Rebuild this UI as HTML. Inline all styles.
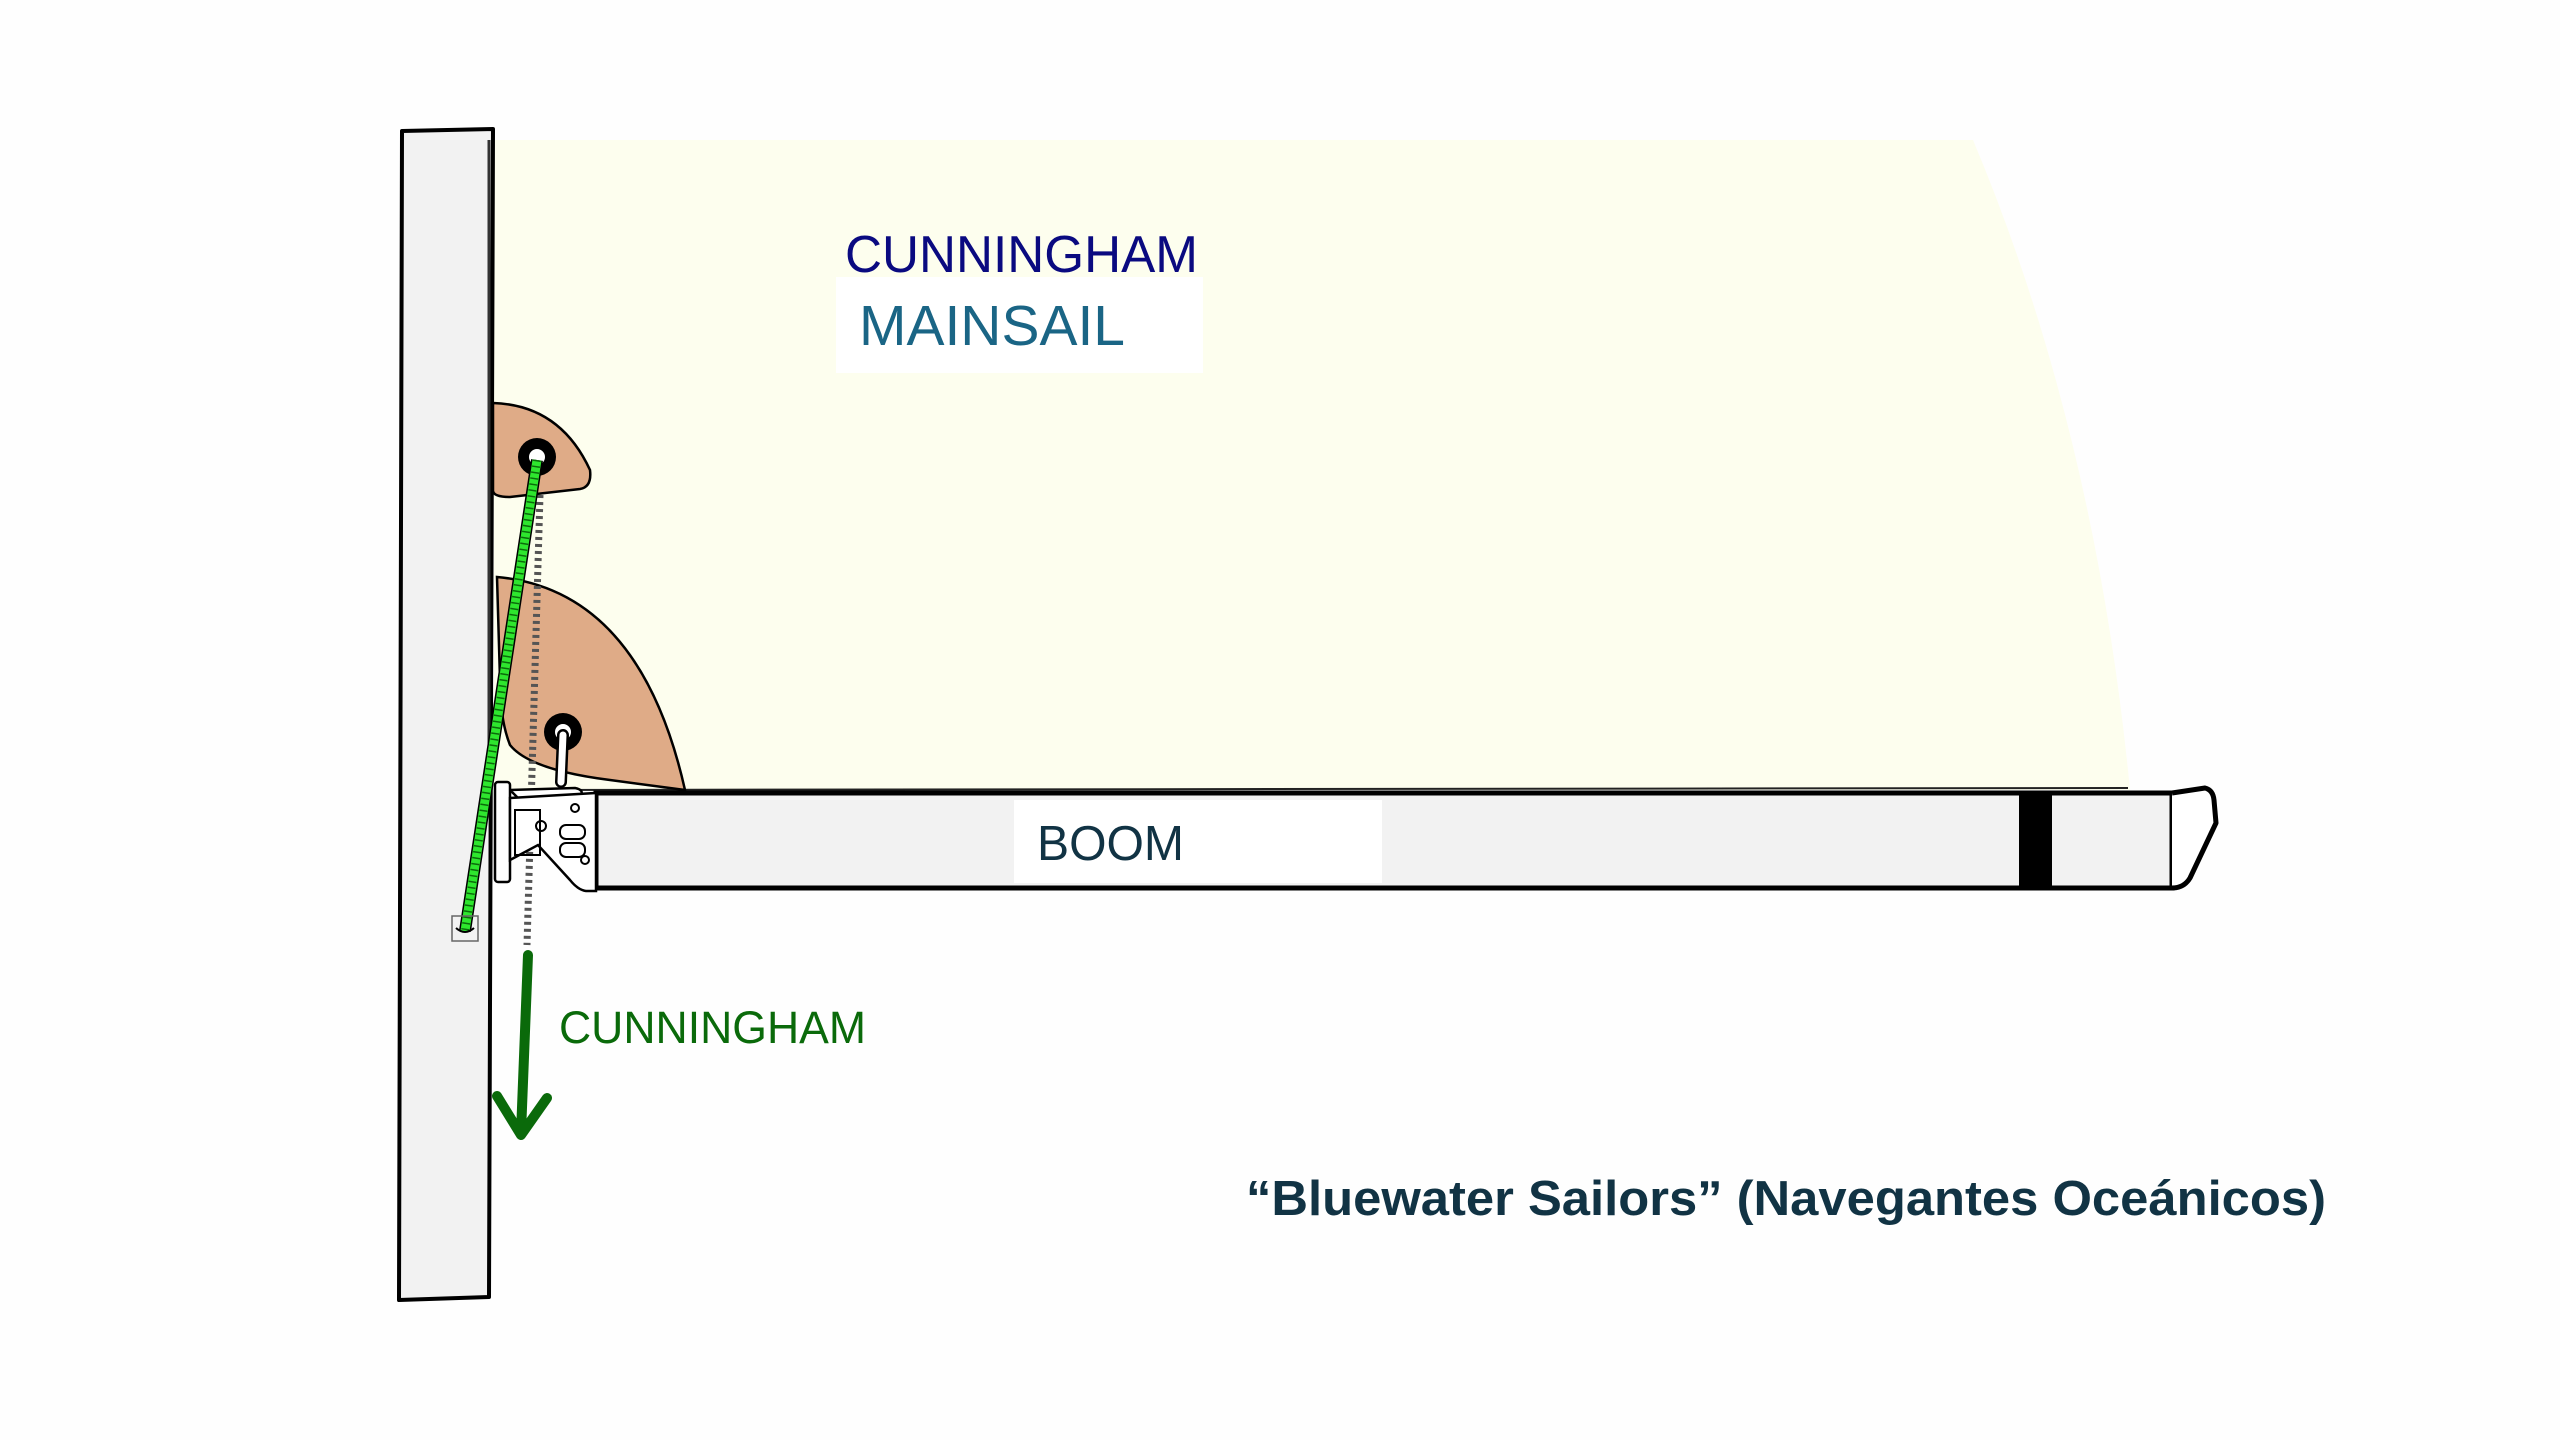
<!DOCTYPE html>
<html><head><meta charset="utf-8"><style>
html,body{margin:0;padding:0;background:#fff;}
svg{display:block;}
</style></head><body>
<svg width="2560" height="1440" viewBox="0 0 2560 1440" xmlns="http://www.w3.org/2000/svg">
<rect width="2560" height="1440" fill="#fefefe"/>
<path d="M494,140 L1973,140 Q2095,430 2130,790 L494,790 Z" fill="#fdfeee"/>
<line x1="494" y1="790" x2="2128" y2="788" stroke="#222" stroke-width="2"/>
<polygon points="402,131 493,129 489,1297 399,1300" fill="#f2f2f2" stroke="#000" stroke-width="4" stroke-linejoin="round"/>
<line x1="489" y1="140" x2="489" y2="780" stroke="#333" stroke-width="3"/>
<path d="M493,403 Q560,405 590,470 Q592,487 580,489 L510,497 Q494,497 493,491 Z" fill="#dfab87" stroke="#000" stroke-width="2.5"/>
<path d="M497,577 Q640,590 685,790 L610,780 Q530,770 510,745 Q500,720 500,680 Z" fill="#dfab87" stroke="#000" stroke-width="2.5"/>
<line x1="540" y1="495" x2="527" y2="945" stroke="#555" stroke-width="7" stroke-dasharray="3 4"/>
<circle cx="537" cy="457" r="19" fill="#000"/><circle cx="537" cy="457" r="8" fill="#fff"/>
<circle cx="563" cy="732" r="19" fill="#000"/><circle cx="563" cy="732" r="8" fill="#fff"/>
<path d="M563,735 L561,782" stroke="#000" stroke-width="12" stroke-linecap="round"/>
<path d="M563,735 L561,782" stroke="#fff" stroke-width="7" stroke-linecap="round"/>
<rect x="596" y="793" width="1576" height="95" fill="#f2f2f2" stroke="#000" stroke-width="5"/>
<rect x="2019" y="793" width="33" height="95" fill="#000"/>
<path d="M2172,793 L2205,788 Q2213,790 2214,800 L2216,823 L2190,878 Q2184,888 2172,888" fill="#fff" stroke="#000" stroke-width="5" stroke-linejoin="round"/>
<rect x="1014" y="800" width="368" height="83" fill="#fff"/>
<text x="1037" y="860" font-family="Liberation Sans, sans-serif" font-size="49" fill="#113344" textLength="147" lengthAdjust="spacingAndGlyphs">BOOM</text>
<path d="M510,790 L575,788 Q585,790 580,796 L520,800 Z" fill="#fff" stroke="#000" stroke-width="2.5"/>
<rect x="495" y="782" width="15" height="100" rx="3" fill="#fff" stroke="#000" stroke-width="2.5"/>
<path d="M510,798 L596,793 L596,891 L586,891 Q578,890 570,880 L538,845 L510,860 Z" fill="#fff" stroke="#000" stroke-width="2.5"/>
<rect x="515" y="810" width="25" height="45" fill="none" stroke="#000" stroke-width="2"/>
<rect x="560" y="825" width="25" height="14" rx="6" fill="none" stroke="#000" stroke-width="2"/>
<rect x="560" y="843" width="25" height="14" rx="6" fill="none" stroke="#000" stroke-width="2"/>
<circle cx="575" cy="808" r="4" fill="none" stroke="#000" stroke-width="2"/>
<circle cx="585" cy="860" r="4" fill="none" stroke="#000" stroke-width="2"/>
<circle cx="541" cy="826" r="5" fill="none" stroke="#000" stroke-width="2"/>
<line x1="537" y1="460" x2="465" y2="931" stroke="#000" stroke-width="12"/>
<line x1="537" y1="460" x2="465" y2="931" stroke="#2ee62e" stroke-width="9"/>
<line x1="537" y1="460" x2="465" y2="931" stroke="#0b6b0b" stroke-width="8" stroke-dasharray="1.5 4.5"/>
<rect x="452" y="916" width="26" height="25" fill="none" stroke="#666" stroke-width="1.5"/>
<path d="M456,928 Q465,936 474,928" fill="none" stroke="#000" stroke-width="2"/>
<g stroke="#0a6a0a" stroke-width="10" stroke-linecap="round" stroke-linejoin="round" fill="none">
<line x1="528" y1="955" x2="521" y2="1133"/>
<polyline points="497,1096 521,1135 547,1098"/>
</g>
<text x="845" y="272" font-family="Liberation Sans, sans-serif" font-size="52" fill="#0a0a80" textLength="353" lengthAdjust="spacingAndGlyphs">CUNNINGHAM</text>
<rect x="836" y="277" width="367" height="96" fill="#fff"/>
<text x="859" y="345" font-family="Liberation Sans, sans-serif" font-size="57" fill="#1a6585" textLength="266" lengthAdjust="spacingAndGlyphs">MAINSAIL</text>
<text x="559" y="1043" font-family="Liberation Sans, sans-serif" font-size="45" fill="#0a6a0a" textLength="307" lengthAdjust="spacingAndGlyphs">CUNNINGHAM</text>
<text x="1246" y="1215" font-family="Liberation Sans, sans-serif" font-weight="bold" font-size="49" fill="#113344" textLength="1080" lengthAdjust="spacingAndGlyphs">“Bluewater Sailors” (Navegantes Oceánicos)</text>
</svg>
</body></html>
